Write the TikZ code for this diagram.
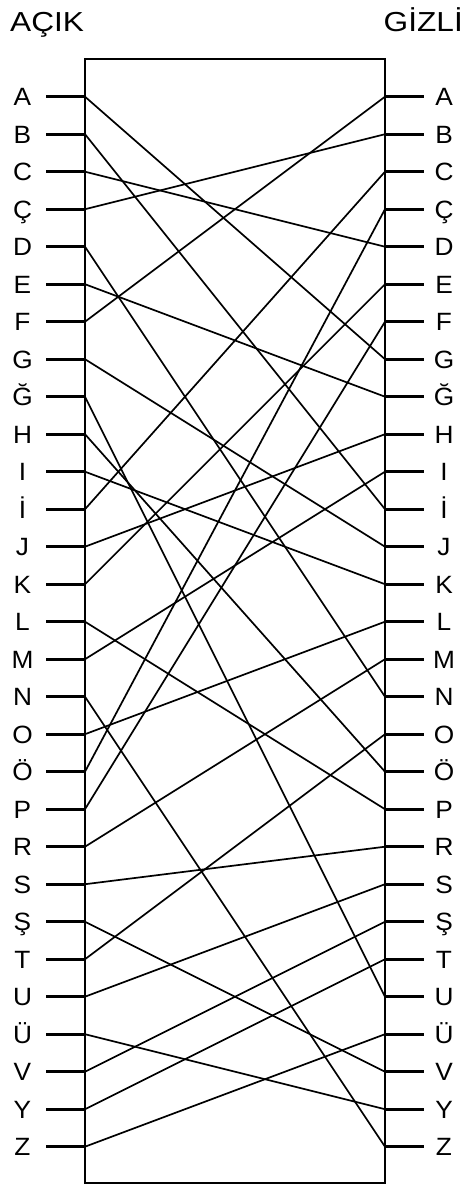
\documentclass[tikz,border=0pt]{standalone}
\usepackage{fontspec}
\setmainfont[FakeStretch=1.05]{Liberation Sans}
\newfontfamily\baslikfont[FakeStretch=1.15]{Liberation Sans}
\begin{document}
\begin{tikzpicture}[x=1pt,y=-1pt,
    harf/.style={font=\fontsize{25}{29}\selectfont, inner sep=0pt, anchor=base},
    baslik/.style={font=\baslikfont\fontsize{27.5}{31}\selectfont, inner sep=0pt},
    kutu/.style={line width=2.8pt},
    cizgi/.style={line width=1.7pt}]
    \useasboundingbox (0,0) rectangle (473,1185);

    % başlıklar
    \node[baslik, anchor=base west] (acik) at (10,31.5) {AÇIK};
    \node[baslik, anchor=base east] (gizli) at (463,31.5) {GİZLİ};

    % kutu
    \draw[kutu] (85,59) rectangle (385,1183);

    % harfler ve çentikler
    \foreach \h [count=\i from 0] in {A,B,C,Ç,D,E,F,G,Ğ,H,I,İ,J,K,L,M,N,O,Ö,P,R,S,Ş,T,U,Ü,V,Y,Z}{
        \coordinate (sol\i) at (85,96.7+37.5*\i);
        \coordinate (sag\i) at (385,96.7+37.5*\i);
        \coordinate (soluc\i) at (46,96.7+37.5*\i);
        \coordinate (saguc\i) at (424,96.7+37.5*\i);
        \node[harf] (harfsol\i) at (22.5,105.6+37.5*\i) {\h};
        \node[harf] (harfsag\i) at (444,105.6+37.5*\i) {\h};
        \draw[kutu] (soluc\i) -- (sol\i);
        \draw[kutu] (sag\i) -- (saguc\i);
    }

    % açık harf -> gizli harf
    \foreach \j [count=\i from 0] in {7,11,4,1,16,8,0,12,24,18,13,2,9,5,19,10,28,14,3,6,15,20,26,17,21,27,22,23,25}
        \draw[cizgi] (sol\i) -- (sag\j);
\end{tikzpicture}
\end{document}
